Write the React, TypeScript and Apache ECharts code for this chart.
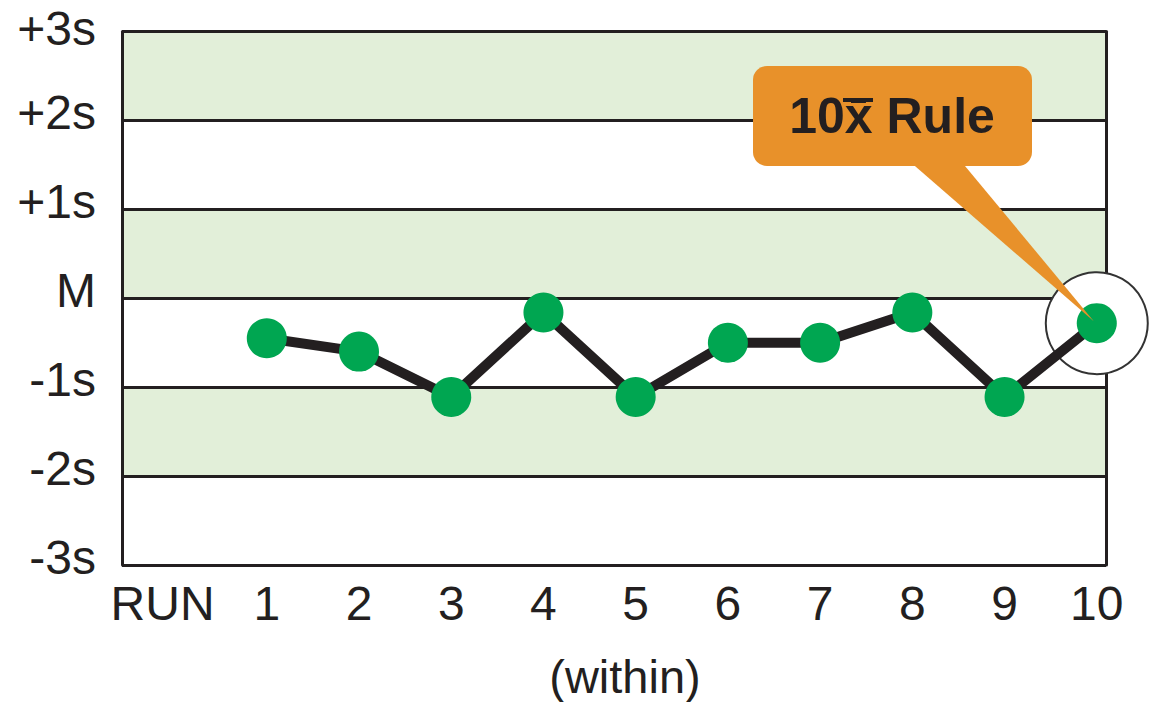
import React, { useEffect, useRef } from "react";
import * as echarts from "echarts";

const runs = [1, 2, 3, 4, 5, 6, 7, 8, 9, 10];
const values = [-0.45, -0.6, -1.11, -0.16, -1.11, -0.5, -0.5, -0.16, -1.11, -0.28];
const xTickValues = [0, 1, 2, 3, 4, 5, 6, 7, 8, 9, 10];
const xTickLabels = ["RUN", "1", "2", "3", "4", "5", "6", "7", "8", "9", "10"];
const yTickValues = [-3, -2, -1, 0, 1, 2, 3];
const yTickLabels = ["-3s", "-2s", "-1s", "M", "+1s", "+2s", "+3s"];
const calloutText = "10x\u0304 Rule";
const xAxisTitle = "(within)";

const FONT = "'Liberation Sans', Arial, Helvetica, sans-serif";
const INK = "#231f20";
const GREEN = "#00a651";
const BAND = "#e2efd9";
const ORANGE = "#e8912a";

export default function App() {
  const ref = useRef<HTMLDivElement>(null);

  useEffect(() => {
    if (!ref.current) return;
    const chart = echarts.init(ref.current, null, { renderer: "svg" });
    chart.setOption({
      animation: false,
      grid: { left: 122, right: 46, top: 31.5, bottom: 137, containLabel: false, outerBoundsMode: "none" },
      xAxis: {
        type: "value",
        min: -0.57,
        max: 10.1,
        axisLine: { show: false },
        axisTick: { show: false },
        splitLine: { show: false },
        axisLabel: {
          customValues: xTickValues,
          showMinLabel: true,
          showMaxLabel: true,
          margin: 14,
          color: INK,
          fontSize: 48,
          fontFamily: FONT,
          formatter: (v: number) => {
            const i = xTickValues.indexOf(Math.round(v));
            if (i === 0) return "{run|" + xTickLabels[0] + "}";
            return i >= 0 ? xTickLabels[i] : "";
          },
          rich: {
            run: { fontSize: 48, fontFamily: FONT, color: INK, padding: [0, 24, 0, 0] },
          },
        },
      },
      yAxis: [
        {
          type: "value",
          min: -3,
          max: 3,
          interval: 1,
          axisLine: { show: true, onZero: false, lineStyle: { color: INK, width: 3 } },
          axisTick: { show: false },
          splitLine: { show: true, lineStyle: { color: INK, width: 3 } },
          splitArea: { show: true, areaStyle: { color: ["#ffffff", BAND] } },
          axisLabel: {
            margin: 26,
            color: INK,
            fontSize: 48,
            fontFamily: FONT,
            formatter: (v: number) => {
              const i = yTickValues.indexOf(Math.round(v));
              if (i < 0) return "";
              const style = i === yTickValues.length - 1 ? "t" : "s";
              return "{" + style + "|" + yTickLabels[i] + "}";
            },
            rich: {
              s: { fontSize: 48, lineHeight: 36, fontFamily: FONT, color: INK, padding: [0, 0, 16, 0] },
              t: { fontSize: 48, lineHeight: 36, fontFamily: FONT, color: INK, padding: [0, 0, 7, 0] },
            },
          },
        },
        {
          type: "value",
          position: "right",
          min: -3,
          max: 3,
          interval: 1,
          axisLine: { show: true, onZero: false, lineStyle: { color: INK, width: 3 } },
          axisTick: { show: false },
          splitLine: { show: false },
          axisLabel: { show: false },
        },
      ],
      series: [
        {
          type: "line",
          data: runs.map((r, i) => [r, values[i]]),
          symbol: "circle",
          symbolSize: 40,
          itemStyle: { color: GREEN },
          lineStyle: { color: INK, width: 10 },
          z: 3,
        },
      ],
    });

    const last = runs.length - 1;
    const [px, py] = chart.convertToPixel({ xAxisIndex: 0, yAxisIndex: 0 }, [runs[last], values[last]]) as number[];

    chart.setOption({
      graphic: [
        {
          type: "circle",
          z: 1,
          shape: { cx: px, cy: py, r: 51 },
          style: { fill: "#ffffff", stroke: "#333333", lineWidth: 2 },
        },
        {
          type: "rect",
          z: 10,
          shape: { x: 753, y: 66, width: 279, height: 100, r: 14 },
          style: { fill: ORANGE },
        },
        {
          type: "polygon",
          z: 10,
          shape: { points: [[908, 160], [960, 160], [px - 3, py - 2]] },
          style: { fill: ORANGE },
        },
        {
          type: "text",
          z: 11,
          x: 892,
          y: 116,
          style: {
            text: calloutText,
            fontSize: 50,
            fontWeight: "bold",
            fontFamily: FONT,
            fill: INK,
            align: "center",
            verticalAlign: "middle",
          },
        },
        {
          type: "line",
          z: 12,
          shape: { x1: 843, y1: 100, x2: 873, y2: 100 },
          style: { stroke: INK, lineWidth: 4 },
        },
        {
          type: "text",
          z: 5,
          x: 625,
          y: 676,
          style: {
            text: xAxisTitle,
            fontSize: 47,
            fontFamily: FONT,
            fill: INK,
            align: "center",
            verticalAlign: "middle",
          },
        },
      ],
    });

    return () => chart.dispose();
  }, []);

  return (
    <div
      ref={ref}
      style={{ position: "fixed", left: 0, top: 0, width: 1152, height: 702, background: "#ffffff" }}
    />
  );
}
